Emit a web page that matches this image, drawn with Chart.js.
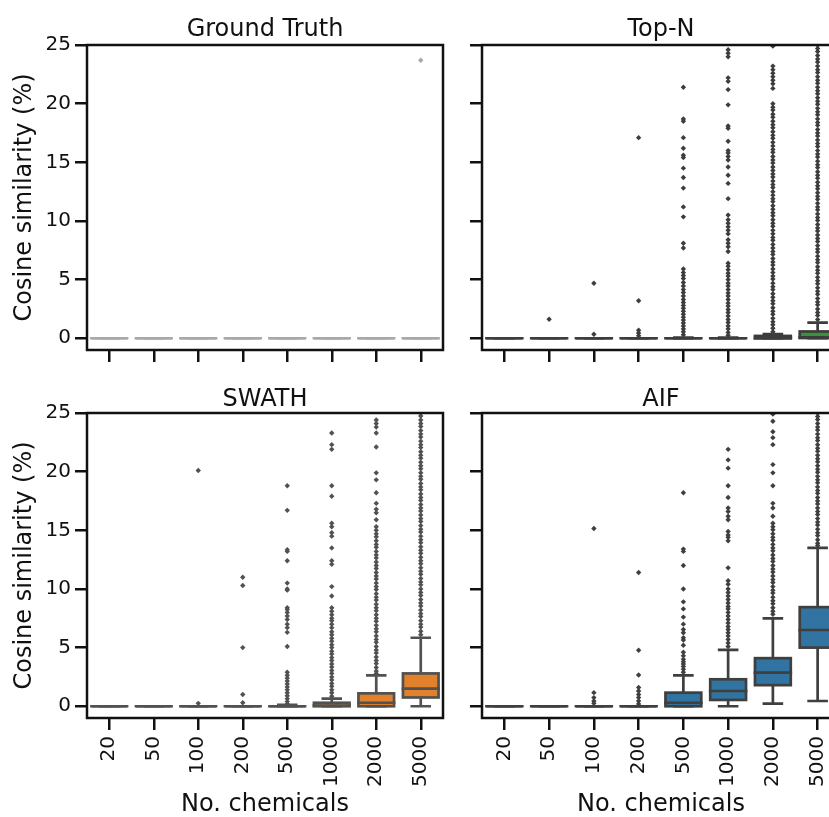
<!DOCTYPE html>
<html>
<head>
<meta charset="utf-8">
<script src="https://cdn.jsdelivr.net/npm/chart.js@4.4.1/dist/chart.umd.min.js"></script>
<style>
html,body{margin:0;padding:0;background:#ffffff;overflow:hidden;width:829px;height:817px;position:relative;}
.pn{position:absolute;}
</style>
</head>
<body>
<script>
// ---------------- DATA ----------------
const categories = ['20','50','100','200','500','1000','2000','5000'];
const yTicks = [0, 5, 10, 15, 20, 25];
const panelTitles = ['Ground Truth', 'Top-N', 'SWATH', 'AIF'];
const xAxisLabel = 'No. chemicals';
const yAxisLabel = 'Cosine similarity (%)';

// Ground Truth
const gtQ1  = [0, 0, 0, 0, 0, 0, 0, 0];
const gtMed = [0, 0, 0, 0, 0, 0, 0, 0];
const gtQ3  = [0, 0, 0, 0, 0, 0, 0, 0];
const gtLo  = [0, 0, 0, 0, 0, 0, 0, 0];
const gtHi  = [0, 0, 0, 0, 0, 0, 0, 0];
const gtOut = [[], [], [], [], [], [], [], [23.7]];

// Top-N
const topnQ1  = [0, 0, 0, 0, 0, 0, 0, 0.02];
const topnMed = [0, 0, 0, 0, 0, 0, 0.02, 0.08];
const topnQ3  = [0, 0, 0, 0, 0, 0, 0.2, 0.58];
const topnLo  = [0, 0, 0, 0, 0, 0, 0, 0];
const topnHi  = [0, 0, 0, 0, 0.05, 0.05, 0.35, 1.33];
const topnOut = [
  [],
  [1.62],
  [4.69, 0.34],
  [17.1, 3.2, 0.68, 0.45, 0.22],
  [21.4, 18.7, 18.5, 17.1, 16.2, 15.6, 15.4, 14.5, 13.7, 12.8, 11.2, 10.35, 8.1, 7.7, 5.9, 5.6, 5.35, 5.1, 4.75, 4.45, 4.15, 3.9, 3.6, 3.3, 3.05, 2.8, 2.55, 2.3, 2.05, 1.8, 1.55, 1.3, 1.05, 0.8, 0.55, 0.3],
  [24.6, 24.3, 24.0, 22.2, 21.9, 21.2, 19.9, 18.1, 17.9, 16.8, 16.0, 15.8, 15.5, 15.2, 14.6, 13.9, 13.2, 11.9, 10.5, 10.1, 9.8, 9.5, 9.2, 8.9, 8.4, 8.1, 7.8, 7.4, 6.4, 6.15, 5.85, 5.55, 5.3, 5.0, 4.7, 4.45, 4.15, 3.85, 3.6, 3.3, 3.0, 2.75, 2.45, 2.2, 1.9, 1.6, 1.35, 1.05, 0.8, 0.5, 0.25],
  [24.9, 23.2, 22.9, 22.6, 22.3, 22.0, 21.7, 21.3, 20.0, 19.7, 19.45, 19.1, 18.85, 18.5, 18.2, 17.95, 17.6, 17.3, 17.05, 16.7, 16.4, 16.1, 15.85, 15.5, 15.2, 14.95, 14.6, 14.3, 14.0, 13.75, 13.4, 13.1, 12.85, 12.5, 12.2, 11.9, 11.65, 11.3, 11.0, 10.7, 10.45, 10.1, 9.8, 9.55, 9.2, 8.9, 8.6, 8.35, 8.0, 7.7, 7.4, 7.15, 6.8, 6.5, 6.25, 5.9, 5.6, 5.3, 5.05, 4.7, 4.4, 4.15, 3.8, 3.5, 3.2, 2.95, 2.6, 2.3, 2.05, 1.7, 1.4, 1.15, 0.85, 0.55],
  [25.0, 24.7, 24.45, 24.1, 23.8, 23.55, 23.2, 22.9, 22.65, 22.3, 22.0, 21.75, 21.4, 21.1, 20.85, 20.5, 20.2, 19.95, 19.6, 19.3, 19.05, 18.7, 18.4, 18.15, 17.8, 17.5, 17.25, 16.9, 16.6, 16.35, 16.0, 15.7, 15.45, 15.1, 14.8, 14.55, 14.2, 13.9, 13.65, 13.3, 13.0, 12.75, 12.4, 12.1, 11.85, 11.5, 11.2, 10.95, 10.6, 10.3, 10.05, 9.7, 9.4, 9.15, 8.8, 8.5, 8.25, 7.9, 7.6, 7.35, 7.0, 6.7, 6.45, 6.1, 5.8, 5.55, 5.2, 4.9, 4.65, 4.3, 4.0, 3.75, 3.4, 3.1, 2.85, 2.5, 2.2, 1.95, 1.6]
];

// SWATH
const swathQ1  = [0, 0, 0, 0, 0, 0, 0, 0.75];
const swathMed = [0, 0, 0, 0, 0, 0.05, 0.3, 1.5];
const swathQ3  = [0, 0, 0, 0, 0, 0.3, 1.1, 2.8];
const swathLo  = [0, 0, 0, 0, 0, 0, 0, 0];
const swathHi  = [0, 0, 0, 0, 0.12, 0.65, 2.64, 5.84];
const swathOut = [
  [],
  [],
  [20.1, 0.25],
  [11.0, 10.3, 5.0, 1.0, 0.3],
  [18.8, 16.7, 13.35, 13.2, 12.4, 10.5, 10.0, 9.9, 8.4, 8.25, 8.0, 7.7, 7.4, 7.0, 6.7, 6.3, 5.1, 2.9, 2.65, 2.4, 2.15, 1.9, 1.65, 1.4, 1.15, 0.9, 0.65, 0.4, 0.2],
  [23.3, 22.3, 21.9, 18.8, 17.9, 15.6, 15.3, 14.8, 14.5, 13.5, 12.4, 12.1, 10.2, 9.4, 8.4, 8.1, 7.8, 7.5, 7.3, 7.0, 6.7, 6.35, 6.1, 5.8, 5.55, 5.25, 5.0, 4.7, 4.45, 4.15, 3.9, 3.6, 3.35, 3.05, 2.8, 2.5, 2.25, 1.95, 1.7, 1.4, 1.15, 0.85],
  [24.4, 24.1, 23.8, 23.3, 22.1, 19.9, 19.3, 18.2, 17.3, 16.8, 16.5, 15.9, 15.3, 15.0, 14.7, 14.45, 14.1, 13.8, 13.55, 13.2, 12.9, 12.65, 12.3, 12.0, 11.75, 11.4, 11.1, 10.85, 10.5, 10.2, 9.95, 9.6, 9.3, 9.05, 8.7, 8.4, 8.15, 7.8, 7.5, 7.25, 6.9, 6.6, 6.35, 6.0, 5.7, 5.45, 5.1, 4.8, 4.55, 4.2, 3.9, 3.65, 3.3, 3.0, 2.8],
  [25.0, 24.75, 24.4, 24.1, 23.85, 23.5, 23.2, 22.95, 22.6, 22.3, 22.05, 21.7, 21.4, 21.15, 20.8, 20.5, 20.25, 19.9, 19.6, 19.35, 19.0, 18.7, 18.45, 18.1, 17.8, 17.55, 17.2, 16.9, 16.65, 16.3, 16.0, 15.75, 15.4, 15.1, 14.85, 14.5, 14.2, 13.95, 13.6, 13.3, 13.05, 12.7, 12.4, 12.15, 11.8, 11.5, 11.25, 10.9, 10.6, 10.35, 10.0, 9.7, 9.45, 9.1, 8.8, 8.55, 8.2, 7.9, 7.65, 7.3, 7.0, 6.75, 6.4, 6.1]
];

// AIF
const aifQ1  = [0, 0, 0, 0, 0, 0.54, 1.8, 5.0];
const aifMed = [0, 0, 0, 0, 0.3, 1.3, 2.87, 6.5];
const aifQ3  = [0, 0, 0, 0, 1.16, 2.3, 4.1, 8.45];
const aifLo  = [0, 0, 0, 0, 0, 0, 0.23, 0.45];
const aifHi  = [0, 0, 0, 0, 2.64, 4.8, 7.5, 13.5];
const aifOut = [
  [],
  [],
  [15.15, 1.16, 0.74, 0.45, 0.25],
  [11.4, 4.77, 2.67, 1.6, 1.3, 1.0, 0.74, 0.45, 0.2],
  [18.2, 13.4, 13.2, 12.0, 10.0, 8.9, 8.3, 7.6, 7.0, 6.55, 6.27, 5.85, 5.65, 5.2, 4.6, 4.3, 4.0, 3.8, 3.6, 3.4, 3.15, 2.9],
  [21.9, 21.0, 20.3, 18.8, 17.8, 16.9, 16.6, 16.2, 15.9, 14.9, 14.6, 14.4, 14.1, 11.8, 10.7, 10.4, 10.0, 9.7, 9.4, 9.1, 8.8, 8.5, 8.3, 8.0, 7.7, 7.4, 7.1, 6.8, 6.55, 6.27, 6.0, 5.7, 5.4, 5.1],
  [24.9, 24.3, 23.4, 22.9, 22.3, 20.6, 19.9, 18.8, 17.3, 16.9, 16.2, 15.6, 15.3, 15.05, 14.7, 14.4, 14.15, 13.8, 13.5, 13.25, 12.9, 12.6, 12.35, 12.0, 11.7, 11.45, 11.1, 10.8, 10.55, 10.2, 9.9, 9.65, 9.3, 9.0, 8.75, 8.4, 8.1, 7.85],
  [25.0, 24.7, 24.45, 24.1, 23.8, 23.55, 23.2, 22.9, 22.65, 22.3, 22.0, 21.75, 21.4, 21.1, 20.85, 20.5, 20.2, 19.95, 19.6, 19.3, 19.05, 18.7, 18.4, 18.15, 17.8, 17.5, 17.25, 16.9, 16.6, 16.35, 16.0, 15.7, 15.45, 15.1, 14.8, 14.55, 14.2, 13.9, 13.7]
];

// ---------------- STYLE / LAYOUT ----------------
const FONT = "'DejaVu Sans', 'Liberation Sans', sans-serif";
const TEXT = '#111111';
const LW = 2.7;

const panels = [
  {title: panelTitles[0], q1: gtQ1, med: gtMed, q3: gtQ3, lo: gtLo, hi: gtHi, out: gtOut,
   fill: '#d3d3d3', line: '#a8a8a8', left: 0, top: 0, w: 460, h: 370, yW: 87, padR: 17, padT: 45, xH: 20,
   titleY: 30, showX: false, showY: true},
  {title: panelTitles[1], q1: topnQ1, med: topnMed, q3: topnQ3, lo: topnLo, hi: topnHi, out: topnOut,
   fill: '#3a923a', line: '#3d3d3d', left: 460, top: 0, w: 400, h: 370, yW: 22, padR: 20, padT: 45, xH: 20,
   titleY: 30, showX: false, showY: false},
  {title: panelTitles[2], q1: swathQ1, med: swathMed, q3: swathQ3, lo: swathLo, hi: swathHi, out: swathOut,
   fill: '#e1812c', line: '#515151', left: 0, top: 370, w: 460, h: 447, yW: 87, padR: 17, padT: 43, xH: 99,
   titleY: 30, showX: true, showY: true},
  {title: panelTitles[3], q1: aifQ1, med: aifMed, q3: aifQ3, lo: aifLo, hi: aifHi, out: aifOut,
   fill: '#3274a1', line: '#3f3f3f', left: 460, top: 370, w: 400, h: 447, yW: 22, padR: 20, padT: 43, xH: 99,
   titleY: 30, showX: true, showY: false}
];

function boxPlugin(p) {
  return {
    id: 'boxes',
    afterDatasetsDraw(chart) {
      const ctx = chart.ctx;
      const y = chart.scales.y;
      const meta = chart.getDatasetMeta(0);
      ctx.save();
      ctx.strokeStyle = p.line;
      ctx.lineWidth = LW;
      categories.forEach((c, i) => {
        const el = meta.data[i];
        const cx = el.x, half = el.width / 2;
        const yq1 = y.getPixelForValue(p.q1[i]);
        const yq3 = y.getPixelForValue(p.q3[i]);
        const ym = y.getPixelForValue(p.med[i]);
        const ylo = y.getPixelForValue(p.lo[i]);
        const yhi = y.getPixelForValue(p.hi[i]);
        ctx.lineCap = 'butt';
        ctx.beginPath();
        ctx.moveTo(cx, yq3); ctx.lineTo(cx, yhi);
        ctx.moveTo(cx, yq1); ctx.lineTo(cx, ylo);
        ctx.stroke();
        ctx.lineCap = 'square';
        ctx.beginPath();
        ctx.moveTo(cx - half / 2, yhi); ctx.lineTo(cx + half / 2, yhi);
        ctx.moveTo(cx - half / 2, ylo); ctx.lineTo(cx + half / 2, ylo);
        ctx.stroke();
        ctx.lineCap = 'butt';
        ctx.lineJoin = 'miter';
        ctx.strokeRect(cx - half, yq3, 2 * half, yq1 - yq3);
        ctx.lineCap = 'square';
        ctx.beginPath();
        ctx.moveTo(cx - half, ym); ctx.lineTo(cx + half, ym);
        ctx.stroke();
      });
      ctx.restore();
    }
  };
}

function framePlugin(p) {
  return {
    id: 'frame',
    afterDraw(chart) {
      const a = chart.chartArea, ctx = chart.ctx;
      ctx.save();
      ctx.strokeStyle = TEXT;
      ctx.lineWidth = 2.5;
      ctx.lineJoin = 'miter';
      ctx.strokeRect(a.left, a.top, a.right - a.left, a.bottom - a.top);
      ctx.fillStyle = TEXT;
      ctx.font = '24px ' + FONT;
      ctx.textAlign = 'center';
      ctx.textBaseline = 'middle';
      ctx.fillText(p.title, (a.left + a.right) / 2, p.titleY);
      ctx.restore();
    }
  };
}

panels.forEach((p, k) => {
  const div = document.createElement('div');
  div.className = 'pn';
  div.style.left = p.left + 'px';
  div.style.top = p.top + 'px';
  div.style.width = p.w + 'px';
  div.style.height = p.h + 'px';
  const cv = document.createElement('canvas');
  cv.width = p.w; cv.height = p.h;
  cv.style.width = p.w + 'px'; cv.style.height = p.h + 'px';
  div.appendChild(cv);
  document.body.appendChild(div);

  const pts = [];
  p.out.forEach((arr, i) => arr.forEach(v => pts.push({x: categories[i], y: v})));

  const gridCfg = {display: true, offset: false, drawOnChartArea: false, drawTicks: true,
                   tickLength: 12, lineWidth: 2.5, tickWidth: 2.5, tickColor: TEXT, color: TEXT};

  new Chart(cv.getContext('2d'), {
    type: 'bar',
    data: {
      labels: categories,
      datasets: [
        {type: 'bar', data: p.q1.map((v, i) => [v, p.q3[i]]), backgroundColor: p.fill,
         borderWidth: 0, barPercentage: 0.8, categoryPercentage: 1.0, order: 2},
        {type: 'scatter', data: pts, showLine: false, pointStyle: 'rectRot', pointRadius: 2.7,
         pointBackgroundColor: p.line, pointBorderWidth: 0, pointHoverRadius: 2.7, order: 1}
      ]
    },
    options: {
      responsive: false,
      animation: false,
      events: [],
      layout: {padding: {left: 0, right: p.padR, top: p.padT, bottom: 0}},
      plugins: {
        legend: {display: false},
        tooltip: {enabled: false},
        title: {display: false}
      },
      scales: {
        x: {
          type: 'category', offset: true,
          grid: gridCfg,
          border: {display: false},
          ticks: {color: p.showX ? TEXT : 'rgba(0,0,0,0)', font: {family: FONT, size: 20},
                  minRotation: 90, maxRotation: 90, padding: 6, autoSkip: false},
          title: {display: p.showX, text: xAxisLabel, color: TEXT,
                  font: {family: FONT, size: 24, lineHeight: 1}, padding: {top: 0, bottom: 0}},
          afterFit(s) { s.height = p.xH; }
        },
        y: {
          type: 'linear', min: -1, max: 25,
          afterBuildTicks(s) { s.ticks = yTicks.map(v => ({value: v})); },
          grid: gridCfg,
          border: {display: false},
          ticks: {color: p.showY ? TEXT : 'rgba(0,0,0,0)', font: {family: FONT, size: 20}, padding: 4},
          title: {display: p.showY, text: yAxisLabel, color: TEXT,
                  font: {family: FONT, size: 24, lineHeight: 1}, padding: {top: 13, bottom: 0}},
          afterFit(s) { s.width = p.yW; }
        }
      }
    },
    plugins: [boxPlugin(p), framePlugin(p)]
  });
});
</script>
</body>
</html>
